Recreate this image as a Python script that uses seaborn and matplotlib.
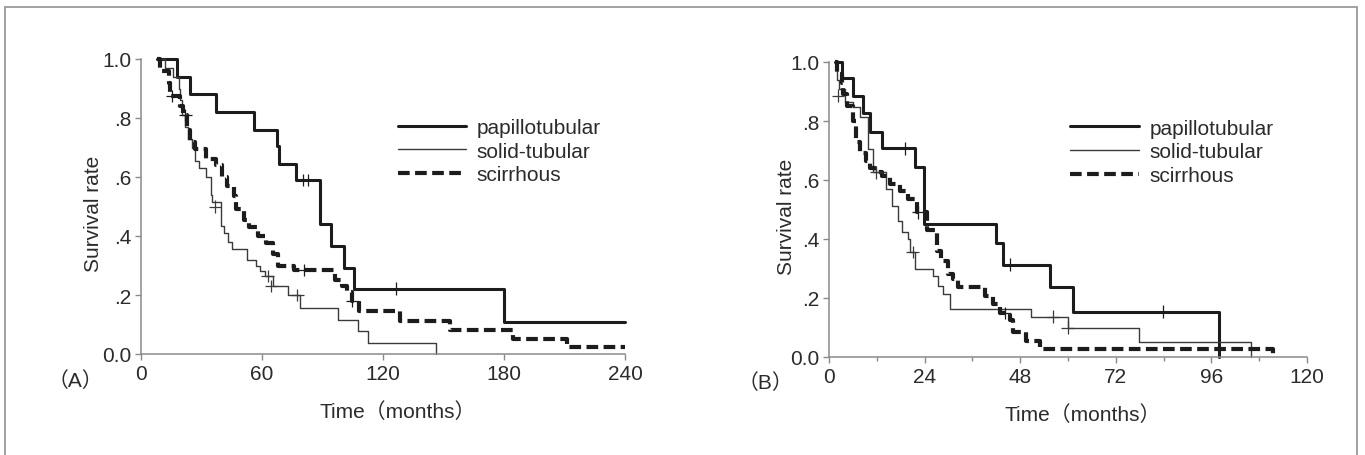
import matplotlib
matplotlib.use("Agg")
import matplotlib.pyplot as plt
import pandas as pd
import seaborn as sns
from matplotlib.patches import Rectangle

# ---------------- data ----------------
groups = ["papillotubular", "solid-tubular", "scirrhous"]

# Panel A (0-240 months)
a_pap_t = [8, 18, 24.5, 37, 56, 67.3, 68.3, 76.7, 89, 94, 100.7, 105.8, 180, 240]
a_pap_s = [1.0, 0.94, 0.88, 0.82, 0.76, 0.704, 0.645, 0.59, 0.44, 0.365, 0.29, 0.222, 0.11, 0.11]
a_sol_t = [8, 12, 16, 18.7, 19.5, 20.3, 21.7, 23.3, 25.3, 27, 28.7, 32, 34.5, 35.3, 39.5, 41,
           43, 45.3, 52.8, 57, 59, 61.3, 65.3, 72.8, 78.7, 97.8, 107.5, 112.8, 146.5]
a_sol_s = [1.0, 0.97, 0.94, 0.90, 0.86, 0.81, 0.77, 0.73, 0.70, 0.655, 0.63, 0.60, 0.54, 0.515,
           0.435, 0.41, 0.38, 0.355, 0.32, 0.30, 0.28, 0.265, 0.23, 0.20, 0.155, 0.115, 0.078,
           0.036, 0.0]
a_sci_t = [8, 9.5, 13.7, 14.5, 19.5, 21, 22.8, 24.5, 26.7, 32, 37, 40.3, 42.8, 46, 47, 51, 53.7,
           58, 62, 65.3, 67.8, 76, 96, 99.5, 102, 104.5, 108, 128.3, 153, 184.5, 211, 240]
a_sci_s = [1.0, 0.96, 0.92, 0.875, 0.84, 0.81, 0.76, 0.72, 0.695, 0.66, 0.64, 0.60, 0.57, 0.535,
           0.49, 0.455, 0.43, 0.40, 0.375, 0.34, 0.30, 0.285, 0.25, 0.23, 0.21, 0.18, 0.147,
           0.113, 0.082, 0.051, 0.023, 0.023]
a_cens_t = [80.3, 82.8, 126.2, 36.7, 62.8, 64.5, 77.5, 15.3, 22, 81, 104.8]
a_cens_s = [0.59, 0.59, 0.222, 0.50, 0.265, 0.23, 0.20, 0.875, 0.81, 0.285, 0.18]
a_cens_g = ["papillotubular"] * 3 + ["solid-tubular"] * 4 + ["scirrhous"] * 4

# Panel B (0-120 months)
b_pap_t = [1.5, 3.2, 6.1, 8.6, 10.3, 13.2, 21.6, 23.9, 41.9, 43.7, 55.6, 61.2, 98]
b_pap_s = [1.0, 0.945, 0.884, 0.827, 0.764, 0.707, 0.643, 0.451, 0.386, 0.313, 0.236, 0.154, 0.0]
b_sol_t = [1.5, 2, 2.5, 4, 6.1, 7.8, 9.8, 11.1, 14.4, 15.7, 17.4, 18.3, 19.9, 20.3, 21.6, 26.2,
           27.3, 28.6, 30.3, 50.8, 59.9, 77.9, 106]
b_sol_s = [1.0, 0.94, 0.91, 0.865, 0.846, 0.812, 0.705, 0.626, 0.57, 0.513, 0.462, 0.423, 0.40,
           0.355, 0.30, 0.276, 0.242, 0.214, 0.163, 0.137, 0.10, 0.05, 0.0]
b_sci_t = [1.5, 2, 3.2, 3.6, 4.4, 6.1, 6.9, 7.8, 9.4, 10.3, 11.5, 13.2, 15.3, 17.8, 19.9, 22, 24.5,
           27, 28.2, 29.9, 31.2, 32.4, 39.1, 41.2, 43, 45.4, 46.2, 49.5, 53, 111.4]
b_sci_s = [1.0, 0.96, 0.93, 0.89, 0.85, 0.80, 0.73, 0.69, 0.665, 0.64, 0.626, 0.612, 0.586, 0.564,
           0.536, 0.49, 0.43, 0.36, 0.326, 0.28, 0.264, 0.236, 0.208, 0.18, 0.15, 0.125, 0.084,
           0.055, 0.027, 0.0]
b_cens_t = [19, 45.5, 83.8, 2.3, 11.9, 21, 56.2, 59.9, 22.4, 44.1]
b_cens_s = [0.707, 0.313, 0.154, 0.886, 0.626, 0.355, 0.137, 0.10, 0.49, 0.15]
b_cens_g = ["papillotubular"] * 3 + ["solid-tubular"] * 5 + ["scirrhous"] * 2

ytick_vals = [0.0, 0.2, 0.4, 0.6, 0.8, 1.0]
ytick_labels = ["0.0", ".2", ".4", ".6", ".8", "1.0"]
a_xticks = [0, 60, 120, 180, 240]
b_xticks = [0, 24, 48, 72, 96, 120]

# ---------------- style ----------------
sns.set_theme(style="white")
plt.rcParams["font.family"] = ["Liberation Sans Narrow", "Liberation Sans", "Noto Sans CJK JP", "DejaVu Sans"]
TXT = "#2b2b2b"
AX = "#8a8a8a"
FS = 15
colors = {"papillotubular": "#1c1c1c", "solid-tubular": "#3a3a3a", "scirrhous": "#1c1c1c"}
widths = {"papillotubular": 2.2, "solid-tubular": 1.0, "scirrhous": 3.0}
dashes = {"papillotubular": "", "solid-tubular": "", "scirrhous": (2.8, 1.3)}

fig = plt.figure(figsize=(13.65, 4.56), dpi=100)
W, H = 1365, 456

# outer frame
fig.patches.append(Rectangle((5 / W, -0.2), 1352 / W, 1.2 - 8 / H, transform=fig.transFigure,
                             fill=False, edgecolor="#9a9a9a", linewidth=1.3))


def panel(rect, series, ct, cs, cg, xticks, minor, ylab_x, leg_x, leg_y):
    ax = fig.add_axes(rect)
    df = pd.concat([pd.DataFrame({"t": t, "s": s, "group": g}) for g, (t, s) in zip(groups, series)],
                   ignore_index=True)
    sns.lineplot(data=df, x="t", y="s", hue="group", style="group", size="group",
                 hue_order=groups, style_order=groups, size_order=groups,
                 palette=colors, dashes=dashes, sizes=widths, drawstyle="steps-post",
                 estimator=None, sort=False, legend=False, ax=ax, clip_on=False)
    cdf = pd.DataFrame({"t": ct, "s": cs, "group": cg})
    sns.scatterplot(data=cdf, x="t", y="s", hue="group", hue_order=groups, palette=colors,
                    marker="+", s=80, linewidth=0.9, legend=False, ax=ax, clip_on=False, zorder=5)
    ax.set_xlim(xticks[0], xticks[-1])
    ax.set_ylim(0, 1.0)
    ax.set_xticks(xticks)
    ax.set_xticklabels([str(v) for v in xticks], fontsize=FS, color=TXT)
    if minor is not None:
        ax.set_xticks(minor, minor=True)
    ax.set_yticks(ytick_vals)
    ax.set_yticklabels(ytick_labels, fontsize=FS, color=TXT)
    ax.tick_params(axis="both", which="both", direction="out", length=4, width=1, color=AX,
                   bottom=True, left=True, pad=3)
    ax.tick_params(axis="x", which="minor", length=3)
    for side in ["top", "right"]:
        ax.spines[side].set_visible(False)
    for side in ["left", "bottom"]:
        ax.spines[side].set_color(AX)
        ax.spines[side].set_linewidth(1.1)
    ax.set_xlabel("Time（months）", fontsize=FS, color=TXT)
    ax.set_ylabel("Survival rate", fontsize=FS, color=TXT)
    ax.xaxis.set_label_coords(0.53, -0.16)
    ax.yaxis.set_label_coords(ylab_x, 0.48)
    handles = ax.get_lines()[:3]
    leg = ax.legend(handles, groups, loc="upper left", bbox_to_anchor=(leg_x, leg_y), frameon=False,
                    fontsize=FS, handlelength=3.3, handletextpad=0.5, labelspacing=0.22,
                    borderpad=0, borderaxespad=0)
    for t in leg.get_texts():
        t.set_color(TXT)
    return ax


ax_a = panel([141 / W, 1 - 355 / H, 484 / W, 295 / H],
             [(a_pap_t, a_pap_s), (a_sol_t, a_sol_s), (a_sci_t, a_sci_s)],
             a_cens_t, a_cens_s, a_cens_g, a_xticks, None, -0.078, 0.53, 0.80)
ax_b = panel([829 / W, 1 - 358 / H, 478 / W, 295 / H],
             [(b_pap_t, b_pap_s), (b_sol_t, b_sol_s), (b_sci_t, b_sci_s)],
             b_cens_t, b_cens_s, b_cens_g, b_xticks, list(range(12, 120, 24)), -0.068, 0.505, 0.808)

fig.text(75 / W, 1 - 381 / H, "（A）", fontsize=FS, color=TXT, ha="center", va="center")
fig.text(765 / W, 1 - 383 / H, "（B）", fontsize=FS, color=TXT, ha="center", va="center")

fig.savefig("out.png", dpi=100, facecolor="white")
